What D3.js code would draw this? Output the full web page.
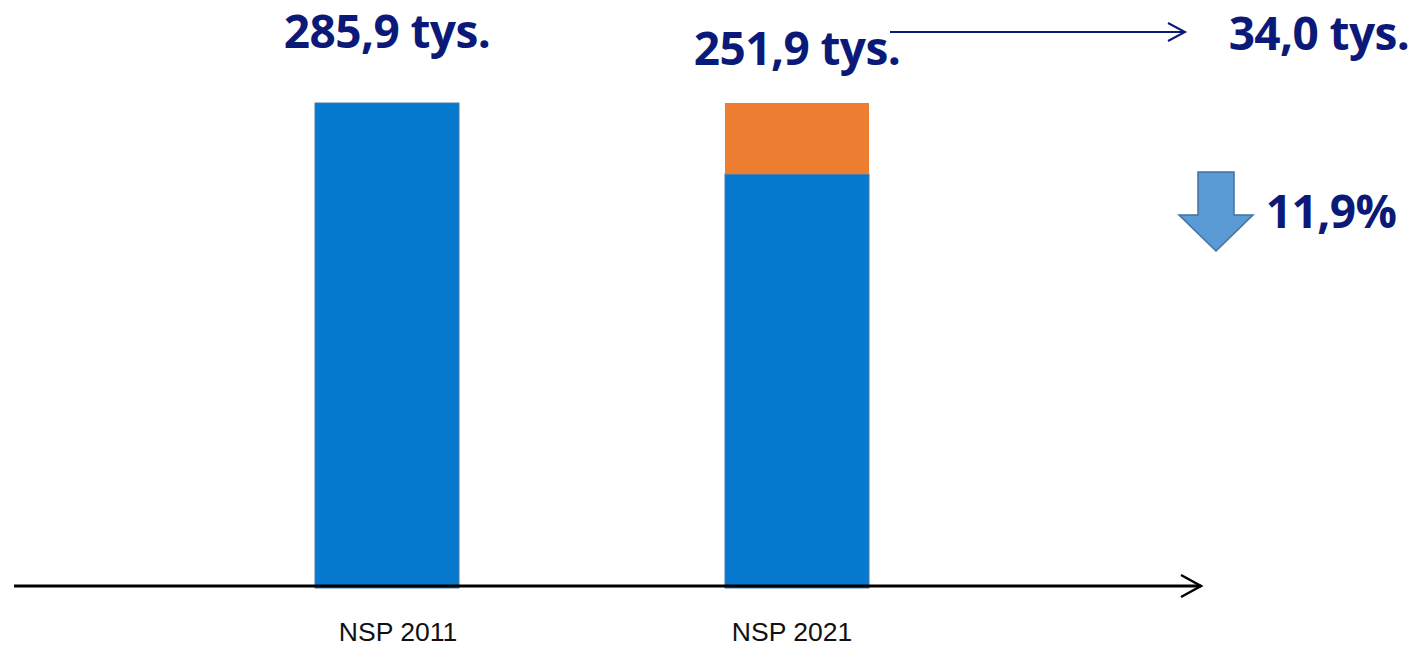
<!DOCTYPE html>
<html>
<head>
<meta charset="utf-8">
<script src="https://cdn.jsdelivr.net/npm/d3@7"></script>
<style>
  html, body { margin: 0; padding: 0; background: #fff; }
  svg { display: block; }
  .big { font-family: 'Open Sans', 'Noto Sans', sans-serif; font-weight: 700; fill: #0b1a78; letter-spacing: -0.6px; }
  .cat { font-family: 'Liberation Sans', Arial, sans-serif; font-size: 26.5px; fill: #111; }
</style>
</head>
<body>
<div class="chart"></div>
<script>
'use strict';

// data (thousands)
var categories = ['NSP 2011', 'NSP 2021'];
var baseValues = [285.9, 251.9];
var extraValues = [0, 34.0];
var totalLabels = ['285,9 tys.', '251,9 tys.'];
var diffLabel = '34,0 tys.';
var changeLabel = '11,9%';

var width = 1417,
    height = 647,
    barWidth = 144,
    navy = '#0b1a78';

var svg = d3.select('.chart').append('svg').attr('width', width).attr('height', height);

var x = d3.scalePoint().domain(categories).range([387, 797]);
// category labels sit slightly off the bar centres in the original
var xLabel = d3.scalePoint().domain(categories).range([398, 792]);
var y = d3.scaleLinear().domain([55, 285.9]).range([586, 103]);

var stack = categories.map(function (c, i) {
  return { cat: c, base: baseValues[i], extra: extraValues[i] };
});

// blue segments
svg.append('g').selectAll('rect.base').data(stack).enter().append('rect')
  .attr('class', 'base')
  .attr('x', function (d) { return x(d.cat) - barWidth / 2; })
  .attr('y', function (d) { return y(d.base); })
  .attr('width', barWidth)
  .attr('height', function (d) { return y(y.domain()[0]) - y(d.base) + 2; })
  .style('fill', '#0779ce')
  .style('stroke', '#4a7aa8')
  .style('stroke-width', 1);

// orange segment on top
svg.append('g').selectAll('rect.extra').data(stack.filter(function (d) { return d.extra > 0; })).enter().append('rect')
  .attr('class', 'extra')
  .attr('x', function (d) { return x(d.cat) - barWidth / 2; })
  .attr('y', function (d) { return y(d.base + d.extra); })
  .attr('width', barWidth)
  .attr('height', function (d) { return y(d.base) - y(d.base + d.extra); })
  .style('fill', '#ed7d31');

// axis line with arrow
var axisY = y(y.domain()[0]);
svg.append('line').attr('x1', 14).attr('x2', 1201).attr('y1', axisY).attr('y2', axisY)
  .style('stroke', '#000').style('stroke-width', 3);
svg.append('path').attr('d', 'M1181,575L1201,' + axisY + 'L1181,597')
  .style('fill', 'none').style('stroke', '#000').style('stroke-width', 2.5);

// category labels
svg.append('g').selectAll('text').data(categories).enter().append('text')
  .attr('class', 'cat')
  .attr('x', function (d) { return xLabel(d); })
  .attr('y', 641)
  .attr('text-anchor', 'middle')
  .text(function (d) { return d; });

// total labels
var labelY = [48, 65];
svg.append('g').selectAll('text').data(totalLabels).enter().append('text')
  .attr('class', 'big')
  .attr('x', function (d, i) { return x(categories[i]); })
  .attr('y', function (d, i) { return labelY[i]; })
  .attr('text-anchor', 'middle')
  .style('font-size', '46px')
  .text(function (d) { return d; });

// connector to difference
svg.append('line').attr('x1', 890).attr('x2', 1185).attr('y1', 32).attr('y2', 32)
  .style('stroke', navy).style('stroke-width', 2);
svg.append('path').attr('d', 'M1168,23L1185,32L1168,41')
  .style('fill', 'none').style('stroke', navy).style('stroke-width', 2);
svg.append('text').attr('class', 'big')
  .attr('x', 1319).attr('y', 50).attr('text-anchor', 'middle')
  .style('font-size', '46px').text(diffLabel);

// down arrow + percent
svg.append('path')
  .attr('d', 'M1198,172L1234,172L1234,215L1253,215L1216,251L1179,215L1198,215Z')
  .style('fill', '#5b9bd5').style('stroke', '#41719c').style('stroke-width', 1.5);
svg.append('text').attr('class', 'big')
  .attr('x', 1331).attr('y', 228).attr('text-anchor', 'middle')
  .style('font-size', '46px').text(changeLabel);
</script>
</body>
</html>
